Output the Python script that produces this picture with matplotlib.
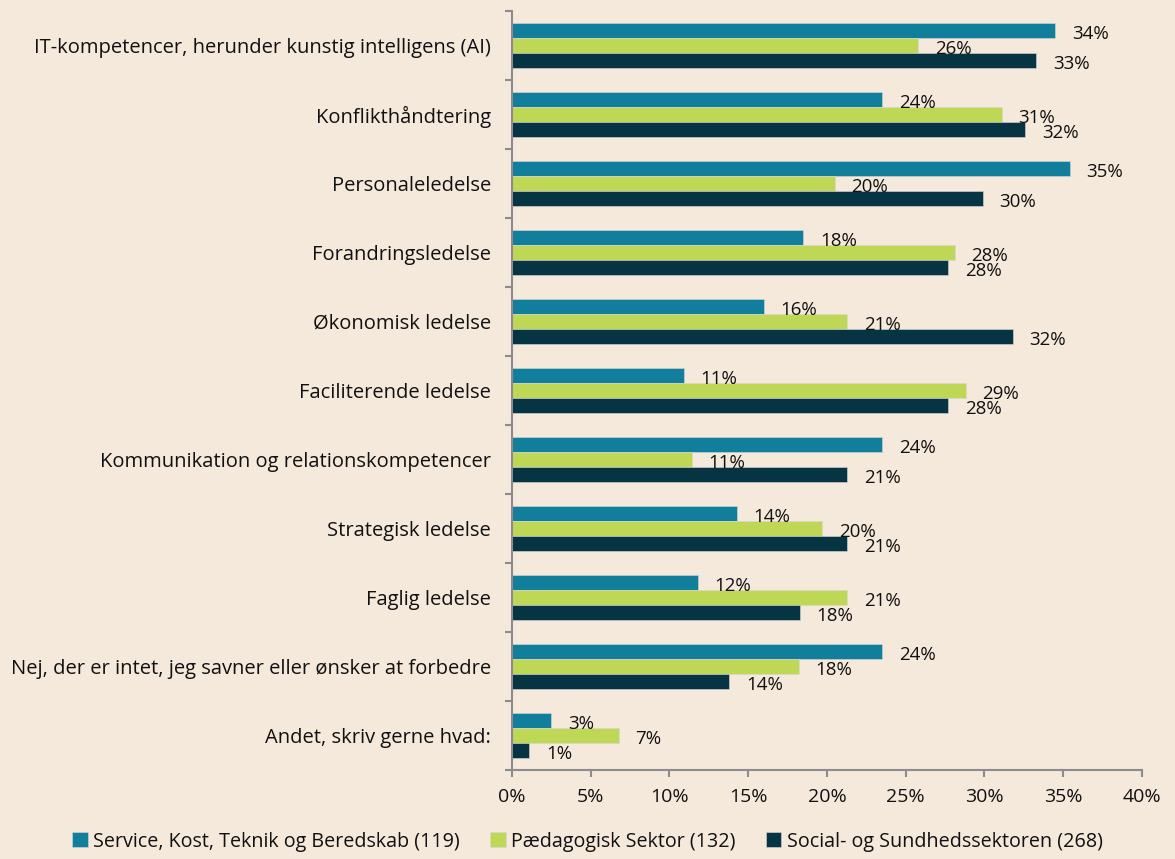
import matplotlib
matplotlib.use("Agg")
import matplotlib.pyplot as plt
import numpy as np

categories = ["IT-kompetencer, herunder kunstig intelligens (AI)",
              "Konflikthåndtering",
              "Personaleledelse",
              "Forandringsledelse",
              "Økonomisk ledelse",
              "Faciliterende ledelse",
              "Kommunikation og relationskompetencer",
              "Strategisk ledelse",
              "Faglig ledelse",
              "Nej, der er intet, jeg savner eller ønsker at forbedre",
              "Andet, skriv gerne hvad:"]

series_names = ["Service, Kost, Teknik og Beredskab (119)",
                "Pædagogisk Sektor (132)",
                "Social- og Sundhedssektoren (268)"]

# bar lengths (%)
service = [34.5, 23.5, 35.4, 18.5, 16.0, 10.9, 23.5, 14.3, 11.8, 23.5, 2.5]
paedagogisk = [25.8, 31.1, 20.5, 28.1, 21.3, 28.8, 11.4, 19.7, 21.3, 18.2, 6.8]
social = [33.3, 32.6, 29.9, 27.7, 31.8, 27.7, 21.3, 21.3, 18.3, 13.8, 1.1]

# printed labels
service_lbl = [34, 24, 35, 18, 16, 11, 24, 14, 12, 24, 3]
paedagogisk_lbl = [26, 31, 20, 28, 21, 29, 11, 20, 21, 18, 7]
social_lbl = [33, 32, 30, 28, 32, 28, 21, 21, 18, 14, 1]

xticks = [0, 5, 10, 15, 20, 25, 30, 35, 40]

colors = ["#117F9B", "#BED856", "#063442"]
bg = "#F5E9DC"
grey = "#8C8C8C"

plt.rcParams['font.family'] = ['Open Sans', 'DejaVu Sans']

fig = plt.figure(figsize=(11.75, 8.59), dpi=100, facecolor=bg)
ax = fig.add_axes([0.4357, 0.1036, 0.5362, 0.8836], facecolor=bg)

n = len(categories)
y = np.arange(n)
h = 0.222
data = [service, paedagogisk, social]
labels = [service_lbl, paedagogisk_lbl, social_lbl]
for k, vals in enumerate(data):
    pos = y + (k - 1) * h
    ax.barh(pos, vals, height=h, color=colors[k], label=series_names[k],
            edgecolor="#D8D8D8", linewidth=0.4)
    for p, v, l in zip(pos, vals, labels[k]):
        ax.text(v + 1.05, p + 0.05, f"{l}%", ha="left", va="center",
                fontsize=13.5, color="#111111")

ax.set_ylim(n - 0.5, -0.5)
ax.set_xlim(0, 40)
ax.set_yticks(np.arange(-0.5, n, 1))
ax.set_yticklabels([])
ax.set_yticks(y, minor=True)
ax.set_yticklabels(categories, minor=True, fontsize=14.5, color="#111111")
ax.tick_params(axis="y", which="minor", length=0, pad=15)
ax.tick_params(axis="y", which="major", length=5, color=grey, width=1.5)
ax.set_xticks(xticks)
ax.set_xticklabels([f"{t}%" for t in xticks], fontsize=14, color="#111111")
ax.tick_params(axis="x", length=5, color=grey, width=1.5, pad=8)
for s in ["top", "right"]:
    ax.spines[s].set_visible(False)
for s in ["left", "bottom"]:
    ax.spines[s].set_color(grey)
    ax.spines[s].set_linewidth(1.5)

leg = fig.legend(loc="lower center", bbox_to_anchor=(0.5, -0.012), ncol=3, frameon=False,
                 fontsize=14.2, handlelength=0.8, handleheight=0.8, handletextpad=0.3,
                 columnspacing=1.5)
for t in leg.get_texts():
    t.set_color("#111111")

fig.savefig("out.png", dpi=100, facecolor=bg)
